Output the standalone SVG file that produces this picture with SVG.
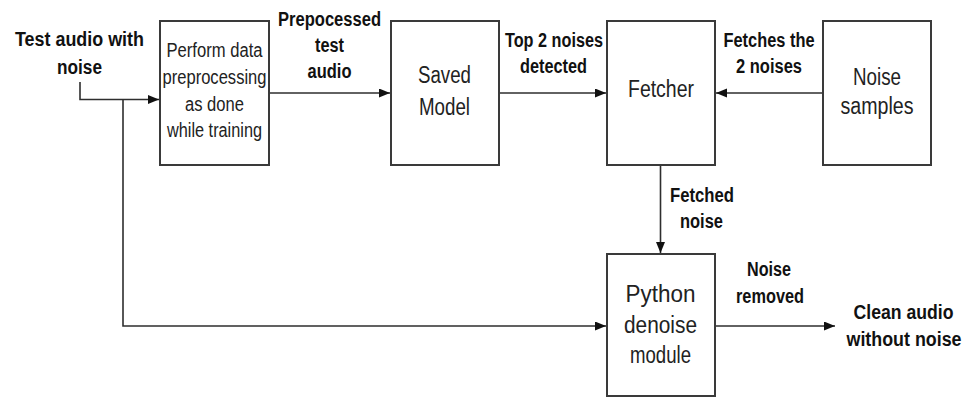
<svg xmlns="http://www.w3.org/2000/svg" width="967" height="398" viewBox="0 0 967 398">
<style>
.box{fill:#fff;stroke:#3a3a3a;stroke-width:2}
.ln{fill:none;stroke:#2e2e2e;stroke-width:1.6}
.b{font-family:"Liberation Sans",Arial,sans-serif;font-weight:bold;font-size:19.5px;fill:#111;text-anchor:middle}
.n{font-family:"Liberation Sans",Arial,sans-serif;font-size:19.5px;fill:#222;text-anchor:middle}
.n2{font-family:"Liberation Sans",Arial,sans-serif;font-size:23px;fill:#222;text-anchor:middle}
</style>
<defs>
<marker id="ah" markerUnits="userSpaceOnUse" markerWidth="12" markerHeight="10" refX="11" refY="4.5" orient="auto">
<path d="M0,0 L11,4.5 L0,9 z" fill="#111"/>
</marker>
</defs>
<rect width="967" height="398" fill="#fff"/>
<g id="connectors">
<polyline class="ln" points="80,82 80,99.5 159,99.5" marker-end="url(#ah)"/>
<polyline class="ln" points="123,99.5 123,326 606,326" marker-end="url(#ah)"/>
<line class="ln" x1="269" y1="93" x2="390" y2="93" marker-end="url(#ah)"/>
<line class="ln" x1="499" y1="93" x2="606" y2="93" marker-end="url(#ah)"/>
<line class="ln" x1="823" y1="93" x2="716" y2="93" marker-end="url(#ah)"/>
<line class="ln" x1="660.5" y1="165" x2="660.5" y2="253" marker-end="url(#ah)"/>
<line class="ln" x1="715" y1="326" x2="835" y2="326" marker-end="url(#ah)"/>
</g>
<g id="input-label">
<text class="b" x="79.5" y="45.5" font-size="22" textLength="129" lengthAdjust="spacingAndGlyphs">Test audio with</text>
<text class="b" x="79.5" y="74" font-size="22" textLength="45" lengthAdjust="spacingAndGlyphs">noise</text>
</g>
<g id="preprocess">
<rect class="box" x="160" y="21" width="109" height="144"/>
<text class="n" x="214.5" y="57" textLength="96" lengthAdjust="spacingAndGlyphs">Perform data</text>
<text class="n" x="214.5" y="84" textLength="104" lengthAdjust="spacingAndGlyphs">preprocessing</text>
<text class="n" x="214.5" y="110.5" textLength="59" lengthAdjust="spacingAndGlyphs">as done</text>
<text class="n" x="214.5" y="137" textLength="95" lengthAdjust="spacingAndGlyphs">while training</text>
</g>
<g id="saved-model">
<rect class="box" x="391" y="21" width="108" height="144"/>
<text class="n2" x="444.5" y="83" textLength="53" lengthAdjust="spacingAndGlyphs">Saved</text>
<text class="n2" x="444.5" y="115" textLength="51" lengthAdjust="spacingAndGlyphs">Model</text>
</g>
<g id="fetcher">
<rect class="box" x="607" y="21" width="108" height="144"/>
<text class="n2" x="661" y="97" textLength="66" lengthAdjust="spacingAndGlyphs">Fetcher</text>
</g>
<g id="noise-samples">
<rect class="box" x="823" y="21" width="108" height="144"/>
<text class="n2" x="877" y="85" textLength="48" lengthAdjust="spacingAndGlyphs">Noise</text>
<text class="n2" x="877" y="114" textLength="73" lengthAdjust="spacingAndGlyphs">samples</text>
</g>
<g id="python-denoise">
<rect class="box" x="607" y="254" width="108" height="142"/>
<text class="n2" x="660.5" y="302" textLength="70" lengthAdjust="spacingAndGlyphs">Python</text>
<text class="n2" x="660.5" y="333" textLength="73" lengthAdjust="spacingAndGlyphs">denoise</text>
<text class="n2" x="660.5" y="363" textLength="61" lengthAdjust="spacingAndGlyphs">module</text>
</g>
<g id="labels">
<text class="b" x="329.5" y="26" textLength="103" lengthAdjust="spacingAndGlyphs">Prepocessed</text>
<text class="b" x="329.5" y="52" textLength="29" lengthAdjust="spacingAndGlyphs">test</text>
<text class="b" x="329.5" y="78" textLength="44" lengthAdjust="spacingAndGlyphs">audio</text>
<text class="b" x="554" y="47" textLength="98" lengthAdjust="spacingAndGlyphs">Top 2 noises</text>
<text class="b" x="553.5" y="73" textLength="67" lengthAdjust="spacingAndGlyphs">detected</text>
<text class="b" x="769" y="47" textLength="91" lengthAdjust="spacingAndGlyphs">Fetches the</text>
<text class="b" x="769" y="73" textLength="66" lengthAdjust="spacingAndGlyphs">2 noises</text>
<text class="b" x="702" y="202" textLength="64" lengthAdjust="spacingAndGlyphs">Fetched</text>
<text class="b" x="701.5" y="228" textLength="43" lengthAdjust="spacingAndGlyphs">noise</text>
<text class="b" x="769" y="276" font-size="18" textLength="44" lengthAdjust="spacingAndGlyphs">Noise</text>
<text class="b" x="770" y="303" font-size="18" textLength="68" lengthAdjust="spacingAndGlyphs">removed</text>
<text class="b" x="903.5" y="319" font-size="21" textLength="100" lengthAdjust="spacingAndGlyphs">Clean audio</text>
<text class="b" x="904" y="346" font-size="21" textLength="115" lengthAdjust="spacingAndGlyphs">without noise</text>
</g>
</svg>
